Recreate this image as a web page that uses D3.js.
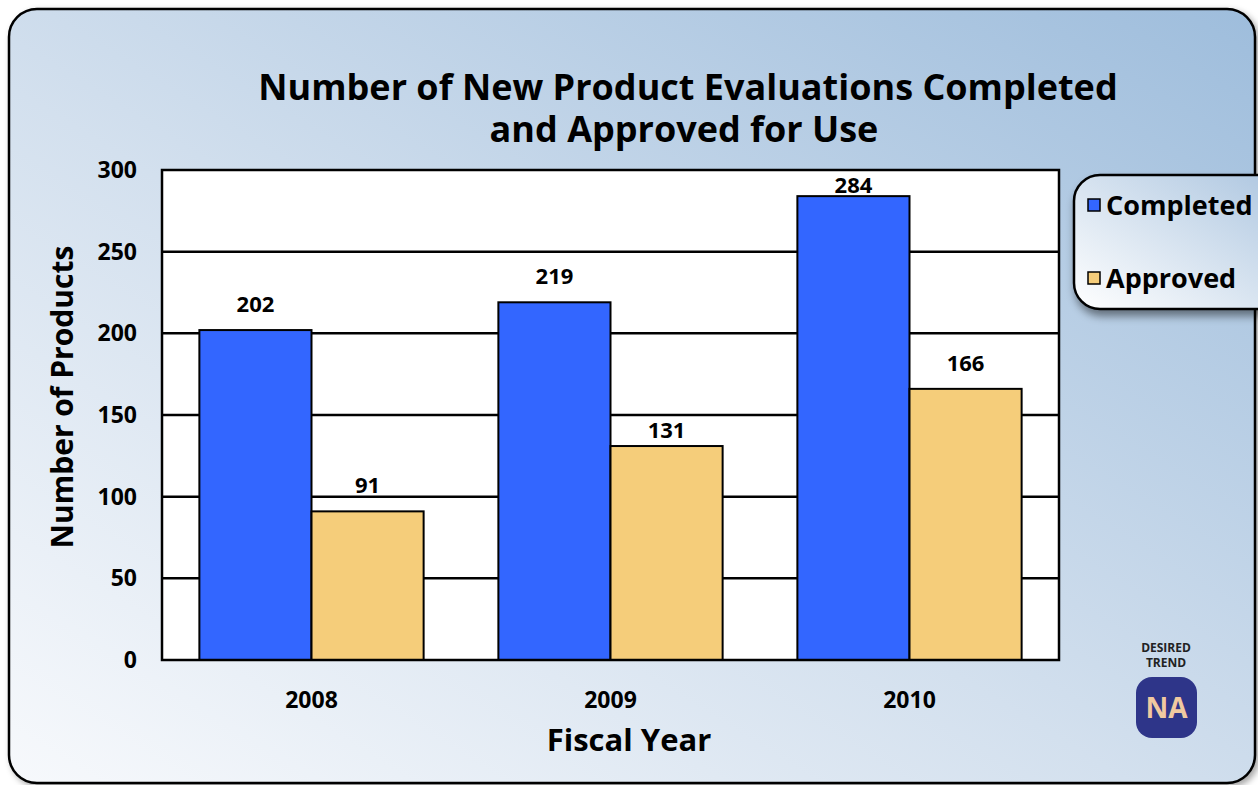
<!DOCTYPE html>
<html>
<head>
<meta charset="utf-8">
<script src="https://cdn.jsdelivr.net/npm/d3@7"></script>
<style>
  body { margin: 0; background: #fff; }
  text { font-family: "Open Sans", "DejaVu Sans", sans-serif; font-weight: bold; }
</style>
</head>
<body>
<svg width="1258" height="785"></svg>
<script>
var years = ["2008", "2009", "2010"];
var seriesNames = ["Completed", "Approved"];
var completed = [202, 219, 284];
var approved = [91, 131, 166];
var yTicks = [0, 50, 100, 150, 200, 250, 300];
var colors = ["#3366ff", "#f5cd7a"];
var titleLines = ["Number of New Product Evaluations Completed", "and Approved for Use"];

var svg = d3.select("svg"),
  width = +svg.attr("width"),
  height = +svg.attr("height");

var defs = svg.append("defs");
var bg = defs.append("linearGradient").attr("id", "bg")
  .attr("x1", "0%").attr("y1", "100%").attr("x2", "100%").attr("y2", "0%");
bg.append("stop").attr("offset", "0%").attr("stop-color", "#f7f9fc");
bg.append("stop").attr("offset", "45%").attr("stop-color", "#d3e0ee");
bg.append("stop").attr("offset", "100%").attr("stop-color", "#9ebddc");

var lg = defs.append("linearGradient").attr("id", "lg")
  .attr("x1", "0%").attr("y1", "100%").attr("x2", "100%").attr("y2", "0%");
lg.append("stop").attr("offset", "0%").attr("stop-color", "#ffffff");
lg.append("stop").attr("offset", "100%").attr("stop-color", "#adc6e0");

var shadow = defs.append("filter").attr("id", "shadow")
  .attr("x", "-20%").attr("y", "-20%").attr("width", "150%").attr("height", "150%");
shadow.append("feDropShadow").attr("dx", 2).attr("dy", 6).attr("stdDeviation", 4)
  .attr("flood-color", "#000").attr("flood-opacity", 0.45);

var pshadow = defs.append("filter").attr("id", "pshadow")
  .attr("x", "-5%").attr("y", "-5%").attr("width", "110%").attr("height", "110%");
pshadow.append("feDropShadow").attr("dx", 3).attr("dy", 3).attr("stdDeviation", 3)
  .attr("flood-color", "#000").attr("flood-opacity", 0.35);

// outer panel
svg.append("rect")
  .attr("x", 9).attr("y", 9).attr("width", 1246).attr("height", 774)
  .attr("rx", 28)
  .attr("fill", "url(#bg)")
  .attr("stroke", "#000").attr("stroke-width", 2.5)
  .attr("filter", "url(#pshadow)");

var margin = { left: 162, top: 170, right: 1059, bottom: 660 };

var x0 = d3.scaleBand().domain(years)
  .range([margin.left, margin.right])
  .paddingInner(0.25).paddingOuter(0.125);
var x1 = d3.scaleBand().domain(seriesNames).range([0, x0.bandwidth()]);
var y = d3.scaleLinear().domain([0, 300]).range([margin.bottom, margin.top]);

// plot background
svg.append("rect")
  .attr("x", margin.left).attr("y", margin.top)
  .attr("width", margin.right - margin.left).attr("height", margin.bottom - margin.top)
  .attr("fill", "#fff");

// gridlines
svg.append("g").selectAll("line")
  .data(yTicks.filter(function (d) { return d > 0 && d < 300; }))
  .enter().append("line")
  .attr("x1", margin.left).attr("x2", margin.right)
  .attr("y1", function (d) { return y(d); })
  .attr("y2", function (d) { return y(d); })
  .attr("stroke", "#000").attr("stroke-width", 2.5);

// bars
var rows = years.map(function (yr, i) {
  return { year: yr, values: [completed[i], approved[i]] };
});

var group = svg.append("g").selectAll("g")
  .data(rows)
  .enter().append("g")
  .attr("transform", function (d) { return "translate(" + x0(d.year) + ",0)"; });

var cell = group.selectAll("g")
  .data(function (d) {
    return d.values.map(function (v, j) { return { key: seriesNames[j], value: v, i: j }; });
  })
  .enter().append("g");

cell.append("rect")
  .attr("x", function (d) { return x1(d.key); })
  .attr("y", function (d) { return y(d.value); })
  .attr("width", x1.bandwidth())
  .attr("height", function (d) { return y(0) - y(d.value); })
  .attr("fill", function (d) { return colors[d.i]; })
  .attr("stroke", "#000").attr("stroke-width", 2);

// value label sits 18px above the bar, unless a gridline would cut through it
function labelY(v) {
  var base = y(v) - 18;
  yTicks.forEach(function (t) {
    var gy = y(t);
    if (t > 0 && gy > base - 18 && gy < base + 1) base = gy + 23;
  });
  return base;
}

cell.append("text")
  .attr("x", function (d) { return x1(d.key) + x1.bandwidth() / 2; })
  .attr("y", function (d) { return labelY(d.value); })
  .attr("text-anchor", "middle")
  .attr("font-size", 22)
  .text(function (d) { return d.value; });

// plot border
svg.append("rect")
  .attr("x", margin.left).attr("y", margin.top)
  .attr("width", margin.right - margin.left).attr("height", margin.bottom - margin.top)
  .attr("fill", "none")
  .attr("stroke", "#000").attr("stroke-width", 2.5);

// y axis labels
svg.append("g").selectAll("text")
  .data(yTicks)
  .enter().append("text")
  .attr("x", 137)
  .attr("y", function (d) { return y(d) + 8; })
  .attr("text-anchor", "end")
  .attr("font-size", 23)
  .text(function (d) { return d; });

// x axis labels
svg.append("g").selectAll("text")
  .data(years)
  .enter().append("text")
  .attr("x", function (d) { return x0(d) + x0.bandwidth() / 2; })
  .attr("y", 708)
  .attr("text-anchor", "middle")
  .attr("font-size", 23)
  .text(function (d) { return d; });

// title, two lines in one text
svg.append("text")
  .attr("text-anchor", "middle").attr("font-size", 36)
  .selectAll("tspan")
  .data(titleLines)
  .enter().append("tspan")
  .attr("x", function (d, i) { return i === 0 ? 688 : 684; })
  .attr("y", function (d, i) { return 100 + i * 42; })
  .text(function (d) { return d; });

svg.append("text")
  .attr("x", 629).attr("y", 751)
  .attr("text-anchor", "middle").attr("font-size", 31)
  .text("Fiscal Year");

svg.append("text")
  .attr("transform", "translate(73,397) rotate(-90)")
  .attr("text-anchor", "middle").attr("font-size", 30)
  .text("Number of Products");

// legend
var legend = svg.append("g");
legend.append("rect")
  .attr("x", 1074).attr("y", 175).attr("width", 210).attr("height", 134)
  .attr("rx", 26)
  .attr("fill", "url(#lg)")
  .attr("stroke", "#000").attr("stroke-width", 2.5)
  .attr("filter", "url(#shadow)");

var item = legend.selectAll("g")
  .data(seriesNames)
  .enter().append("g")
  .attr("transform", function (d, i) { return "translate(1088," + (199 + i * 73) + ")"; });
item.append("rect")
  .attr("width", 12).attr("height", 12)
  .attr("fill", function (d, i) { return colors[i]; })
  .attr("stroke", "#000").attr("stroke-width", 1.5);
item.append("text")
  .attr("x", 18).attr("y", 16)
  .attr("font-size", 27)
  .text(function (d) { return d; });

// desired trend badge
svg.append("text")
  .attr("x", 1166).attr("y", 652)
  .attr("text-anchor", "middle").attr("font-size", 12).attr("fill", "#222")
  .text("DESIRED");
svg.append("text")
  .attr("x", 1166).attr("y", 667)
  .attr("text-anchor", "middle").attr("font-size", 12).attr("fill", "#222")
  .text("TREND");
svg.append("rect")
  .attr("x", 1136).attr("y", 677).attr("width", 61).attr("height", 61)
  .attr("rx", 16)
  .attr("fill", "#2e3589");
svg.append("text")
  .attr("x", 1166.5).attr("y", 718)
  .attr("text-anchor", "middle").attr("font-size", 28).attr("fill", "#f0c9a0")
  .text("NA");
</script>
</body>
</html>
